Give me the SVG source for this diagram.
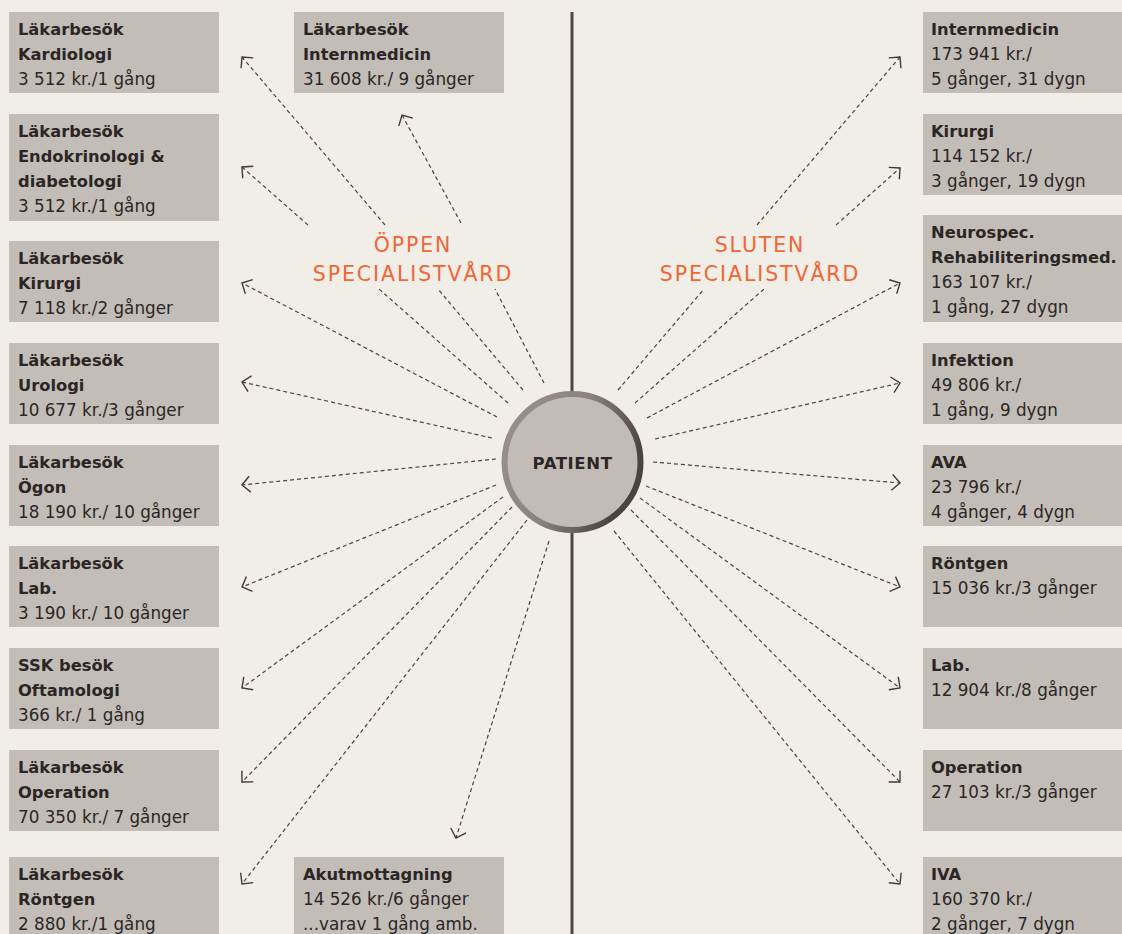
<svg xmlns="http://www.w3.org/2000/svg" width="1122" height="934" viewBox="0 0 1122 934">
  <defs>
    <style>
      .box { fill: #c3bdb7; }
      .t { font-family: "DejaVu Sans", "Liberation Sans", sans-serif; font-size: 16.8px; fill: #2b2625; }
      .b { font-weight: bold; font-size: 16.3px; }
      .lbl { font-family: "DejaVu Sans", "Liberation Sans", sans-serif; font-size: 20.5px; fill: #f26535; letter-spacing: 1.9px; text-anchor: middle; }
      .con { fill: none; stroke: #4a4441; stroke-width: 1.2; stroke-dasharray: 4 3; marker-end: url(#arr); }
    </style>
    <marker id="arr" viewBox="-10 -10 12 20" markerWidth="12" markerHeight="20" refX="0" refY="0" orient="auto" markerUnits="userSpaceOnUse">
      <path d="M-8,-8 L0,0 L-8,8" fill="none" stroke="#3f3a38" stroke-width="1.4"/>
    </marker>
    <linearGradient id="ring" x1="0" y1="0" x2="1" y2="0.4">
      <stop offset="0" stop-color="#9a938c"/>
      <stop offset="0.55" stop-color="#8a837c"/>
      <stop offset="1" stop-color="#4a4340"/>
    </linearGradient>
  </defs>
  <rect width="1122" height="934" fill="#f1eee8"/>

  <line x1="572" y1="12" x2="572" y2="934" stroke="#4e4744" stroke-width="3"/>

  <g id="labels">
    <text class="lbl" x="413" y="252">ÖPPEN</text>
    <text class="lbl" x="413" y="281">SPECIALISTVÅRD</text>
    <text class="lbl" x="760" y="252">SLUTEN</text>
    <text class="lbl" x="760" y="281">SPECIALISTVÅRD</text>
  </g>

  <g id="connectors">
    <path class="con" d="M523,390 L438,289 M385,225 L242,57"/>
    <path class="con" d="M544,383 L495,289 M461,223 L402,115"/>
    <path class="con" d="M508,403 L379,289 M308,225 L242,167"/>
    <path class="con" d="M497,417 L242,283"/>
    <path class="con" d="M492,438 L242,382"/>
    <path class="con" d="M496,459 L242,485"/>
    <path class="con" d="M496,485 L242,587"/>
    <path class="con" d="M503,497 L242,688"/>
    <path class="con" d="M512,507 L242,782"/>
    <path class="con" d="M527,520 L242,884"/>
    <path class="con" d="M549,541 L456,838"/>

    <path class="con" d="M618,390 L704,289 M757,225 L900,57"/>
    <path class="con" d="M635,403 L764,289 M836,225 L900,168"/>
    <path class="con" d="M647,418 L900,283"/>
    <path class="con" d="M655,439 L900,383"/>
    <path class="con" d="M653,462 L900,483"/>
    <path class="con" d="M646,486 L900,587"/>
    <path class="con" d="M640,498 L900,688"/>
    <path class="con" d="M631,510 L900,782"/>
    <path class="con" d="M614,531 L900,884"/>
  </g>

  <g id="patient">
    <circle cx="572.5" cy="462" r="68" fill="#c3bcb6" stroke="url(#ring)" stroke-width="6"/>
    <text x="572.5" y="469" text-anchor="middle" font-family="DejaVu Sans, Liberation Sans, sans-serif" font-size="16.5" font-weight="bold" letter-spacing="0.6" fill="#2b2625">PATIENT</text>
  </g>

  <g id="l-kardiologi">
    <rect class="box" x="9" y="12" width="210" height="81"/>
    <text class="t b" x="18" y="35">Läkarbesök</text>
    <text class="t b" x="18" y="60">Kardiologi</text>
    <text class="t" x="18" y="85">3 512 kr./1 gång</text>
  </g>
  <g id="l-endokrinologi">
    <rect class="box" x="9" y="114" width="210" height="107"/>
    <text class="t b" x="18" y="137">Läkarbesök</text>
    <text class="t b" x="18" y="162">Endokrinologi &amp;</text>
    <text class="t b" x="18" y="187">diabetologi</text>
    <text class="t" x="18" y="212">3 512 kr./1 gång</text>
  </g>
  <g id="l-kirurgi">
    <rect class="box" x="9" y="241" width="210" height="81"/>
    <text class="t b" x="18" y="264">Läkarbesök</text>
    <text class="t b" x="18" y="289">Kirurgi</text>
    <text class="t" x="18" y="314">7 118 kr./2 gånger</text>
  </g>
  <g id="l-urologi">
    <rect class="box" x="9" y="343" width="210" height="81"/>
    <text class="t b" x="18" y="366">Läkarbesök</text>
    <text class="t b" x="18" y="391">Urologi</text>
    <text class="t" x="18" y="416">10 677 kr./3 gånger</text>
  </g>
  <g id="l-ogon">
    <rect class="box" x="9" y="445" width="210" height="81"/>
    <text class="t b" x="18" y="468">Läkarbesök</text>
    <text class="t b" x="18" y="493">Ögon</text>
    <text class="t" x="18" y="518">18 190 kr./ 10 gånger</text>
  </g>
  <g id="l-lab">
    <rect class="box" x="9" y="546" width="210" height="81"/>
    <text class="t b" x="18" y="569">Läkarbesök</text>
    <text class="t b" x="18" y="594">Lab.</text>
    <text class="t" x="18" y="619">3 190 kr./ 10 gånger</text>
  </g>
  <g id="l-ssk">
    <rect class="box" x="9" y="648" width="210" height="81"/>
    <text class="t b" x="18" y="671">SSK besök</text>
    <text class="t b" x="18" y="696">Oftamologi</text>
    <text class="t" x="18" y="721">366 kr./ 1 gång</text>
  </g>
  <g id="l-operation">
    <rect class="box" x="9" y="750" width="210" height="81"/>
    <text class="t b" x="18" y="773">Läkarbesök</text>
    <text class="t b" x="18" y="798">Operation</text>
    <text class="t" x="18" y="823">70 350 kr./ 7 gånger</text>
  </g>
  <g id="l-rontgen">
    <rect class="box" x="9" y="857" width="210" height="81"/>
    <text class="t b" x="18" y="880">Läkarbesök</text>
    <text class="t b" x="18" y="905">Röntgen</text>
    <text class="t" x="18" y="930">2 880 kr./1 gång</text>
  </g>

  <g id="m-internmedicin">
    <rect class="box" x="294" y="12" width="210" height="81"/>
    <text class="t b" x="303" y="35">Läkarbesök</text>
    <text class="t b" x="303" y="60">Internmedicin</text>
    <text class="t" x="303" y="85">31 608 kr./ 9 gånger</text>
  </g>
  <g id="m-akut">
    <rect class="box" x="294" y="857" width="210" height="81"/>
    <text class="t b" x="303" y="880">Akutmottagning</text>
    <text class="t" x="303" y="905">14 526 kr./6 gånger</text>
    <text class="t" x="303" y="930">...varav 1 gång amb.</text>
  </g>

  <g id="r-internmedicin">
    <rect class="box" x="923" y="12" width="199" height="81"/>
    <text class="t b" x="931" y="35">Internmedicin</text>
    <text class="t" x="931" y="60">173 941 kr./</text>
    <text class="t" x="931" y="85">5 gånger, 31 dygn</text>
  </g>
  <g id="r-kirurgi">
    <rect class="box" x="923" y="114" width="199" height="81"/>
    <text class="t b" x="931" y="137">Kirurgi</text>
    <text class="t" x="931" y="162">114 152 kr./</text>
    <text class="t" x="931" y="187">3 gånger, 19 dygn</text>
  </g>
  <g id="r-neurospec">
    <rect class="box" x="923" y="215" width="199" height="107"/>
    <text class="t b" x="931" y="238">Neurospec.</text>
    <text class="t b" x="931" y="263">Rehabiliteringsmed.</text>
    <text class="t" x="931" y="288">163 107 kr./</text>
    <text class="t" x="931" y="313">1 gång, 27 dygn</text>
  </g>
  <g id="r-infektion">
    <rect class="box" x="923" y="343" width="199" height="81"/>
    <text class="t b" x="931" y="366">Infektion</text>
    <text class="t" x="931" y="391">49 806 kr./</text>
    <text class="t" x="931" y="416">1 gång, 9 dygn</text>
  </g>
  <g id="r-ava">
    <rect class="box" x="923" y="445" width="199" height="81"/>
    <text class="t b" x="931" y="468">AVA</text>
    <text class="t" x="931" y="493">23 796 kr./</text>
    <text class="t" x="931" y="518">4 gånger, 4 dygn</text>
  </g>
  <g id="r-rontgen">
    <rect class="box" x="923" y="546" width="199" height="81"/>
    <text class="t b" x="931" y="569">Röntgen</text>
    <text class="t" x="931" y="594">15 036 kr./3 gånger</text>
  </g>
  <g id="r-lab">
    <rect class="box" x="923" y="648" width="199" height="81"/>
    <text class="t b" x="931" y="671">Lab.</text>
    <text class="t" x="931" y="696">12 904 kr./8 gånger</text>
  </g>
  <g id="r-operation">
    <rect class="box" x="923" y="750" width="199" height="81"/>
    <text class="t b" x="931" y="773">Operation</text>
    <text class="t" x="931" y="798">27 103 kr./3 gånger</text>
  </g>
  <g id="r-iva">
    <rect class="box" x="923" y="857" width="199" height="81"/>
    <text class="t b" x="931" y="880">IVA</text>
    <text class="t" x="931" y="905">160 370 kr./</text>
    <text class="t" x="931" y="930">2 gånger, 7 dygn</text>
  </g>
</svg>
